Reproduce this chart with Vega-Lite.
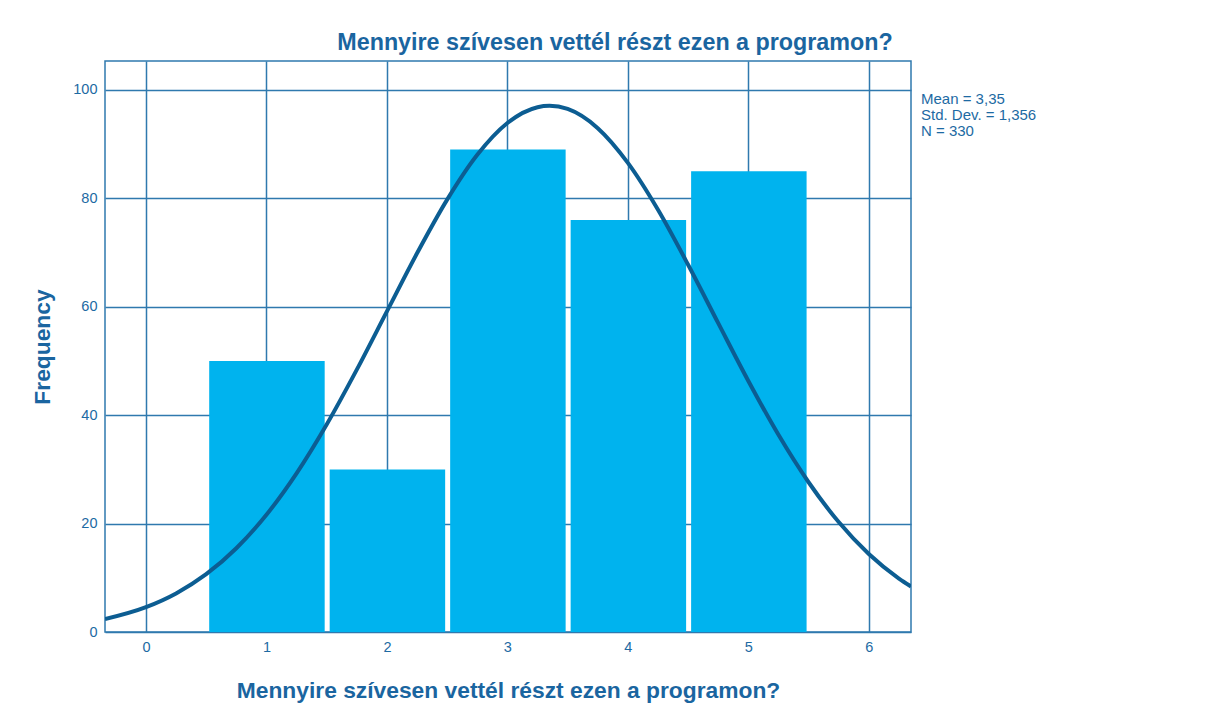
{
  "$schema": "https://vega.github.io/schema/vega-lite/v6.json",
  "width": 806,
  "height": 571,
  "autosize": "none",
  "padding": {"left": 105, "top": 61, "right": 306, "bottom": 83},
  "background": "white",
  "config": {
    "font": "Liberation Sans",
    "view": {"stroke": "#2f79ae", "strokeWidth": 1.5},
    "axis": {
      "labelFont": "Liberation Sans",
      "titleFont": "Liberation Sans",
      "labelColor": "#1d6aa3",
      "titleColor": "#1a65a0",
      "labelFontSize": 14.5,
      "titleFontSize": 22.8,
      "titleFontWeight": "bold",
      "grid": true,
      "gridColor": "#2f79ae",
      "gridWidth": 1.5,
      "gridOpacity": 1,
      "domain": false,
      "ticks": false,
      "labelPadding": 8
    }
  },
  "title": {
    "text": "Mennyire szívesen vettél részt ezen a programon?",
    "font": "Liberation Sans",
    "fontSize": 23.3,
    "fontWeight": "bold",
    "color": "#1a65a0",
    "anchor": "middle",
    "dx": 107,
    "offset": 6
  },
  "datasets": {
    "bars": [
      {"start": 0.5, "end": 1.5, "count": 50},
      {"start": 1.5, "end": 2.5, "count": 30},
      {"start": 2.5, "end": 3.5, "count": 89},
      {"start": 3.5, "end": 4.5, "count": 76},
      {"start": 4.5, "end": 5.5, "count": 85}
    ],
    "curve": [
      {"x": -0.34, "y": 2.39},
      {"x": 0, "y": 4.59},
      {"x": 0.25, "y": 7.12},
      {"x": 0.5, "y": 10.66},
      {"x": 0.75, "y": 15.45},
      {"x": 1, "y": 21.63},
      {"x": 1.25, "y": 29.27},
      {"x": 1.5, "y": 38.28},
      {"x": 1.75, "y": 48.4},
      {"x": 2, "y": 59.15},
      {"x": 2.25, "y": 69.87},
      {"x": 2.5, "y": 79.77},
      {"x": 2.75, "y": 88.04},
      {"x": 3, "y": 93.91},
      {"x": 3.25, "y": 96.83},
      {"x": 3.35, "y": 97.09},
      {"x": 3.5, "y": 96.5},
      {"x": 3.75, "y": 92.96},
      {"x": 4, "y": 86.55},
      {"x": 4.25, "y": 77.9},
      {"x": 4.5, "y": 67.76},
      {"x": 4.75, "y": 56.98},
      {"x": 5, "y": 46.31},
      {"x": 5.25, "y": 36.38},
      {"x": 5.5, "y": 27.63},
      {"x": 5.75, "y": 20.28},
      {"x": 6, "y": 14.38},
      {"x": 6.25, "y": 9.86},
      {"x": 6.35, "y": 8.4}
    ]
  },
  "layer": [
    {
      "data": {"name": "bars"},
      "mark": {"type": "bar", "color": "#00b3ee", "binSpacing": 5},
      "encoding": {
        "x": {
          "field": "start",
          "type": "quantitative",
          "bin": "binned",
          "scale": {"domain": [-0.34, 6.35], "nice": false, "zero": false},
          "axis": {
            "values": [0, 1, 2, 3, 4, 5, 6],
            "format": "d",
            "grid": true,
            "title": "Mennyire szívesen vettél részt ezen a programon?",
            "titlePadding": 26
          }
        },
        "x2": {"field": "end"},
        "y": {
          "field": "count",
          "type": "quantitative",
          "scale": {"domain": [0, 105.35], "nice": false},
          "axis": {
            "values": [0, 20, 40, 60, 80, 100],
            "grid": true,
            "title": "Frequency",
            "titlePadding": 18
          }
        }
      }
    },
    {
      "data": {"name": "curve"},
      "mark": {"type": "line", "color": "#0c5d92", "strokeWidth": 4, "interpolate": "monotone", "clip": true},
      "encoding": {
        "x": {"field": "x", "type": "quantitative"},
        "y": {"field": "y", "type": "quantitative"}
      }
    },
    {
      "data": {"values": [{}]},
      "mark": {
        "type": "text",
        "text": ["Mean = 3,35", "Std. Dev. = 1,356", "N = 330"],
        "align": "left",
        "baseline": "top",
        "fontSize": 15,
        "lineHeight": 16,
        "color": "#1d6aa3",
        "font": "Liberation Sans",
        "clip": false
      },
      "encoding": {
        "x": {"datum": 6.433},
        "y": {"datum": 99.6}
      }
    }
  ]
}
